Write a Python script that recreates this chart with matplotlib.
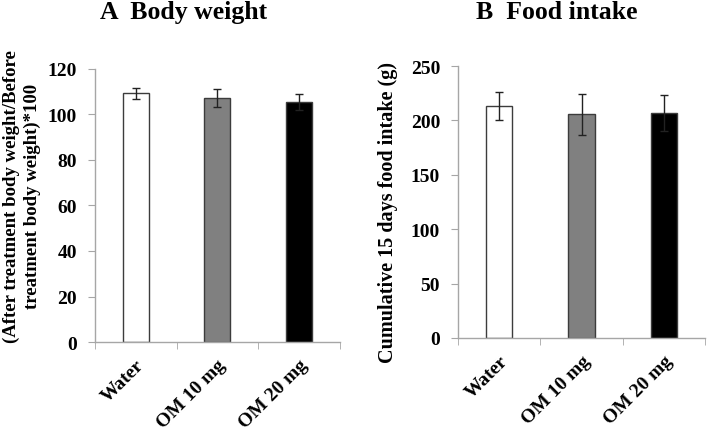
import matplotlib.pyplot as plt
from matplotlib.transforms import ScaledTranslation

plt.rcParams['font.family'] = 'Liberation Serif'
plt.rcParams['font.weight'] = 'bold'

groups = ['Water', 'OM 10 mg', 'OM 20 mg']
colors = ['white', '#808080', 'black']

bw_mean = [109.3, 107.3, 105.4]
bw_err = [2.4, 4.0, 3.6]

food_mean = [213.2, 205.6, 206.8]
food_err = [12.8, 18.7, 16.5]

fig = plt.figure(figsize=(7.08, 4.31), dpi=100)
ax1 = fig.add_axes([0.134, 0.204, 0.346, 0.634])
ax2 = fig.add_axes([0.647, 0.2135, 0.349, 0.631])

spine_col = '#a6a6a6'


def draw(ax, vals, errs, ymax, step):
    x = range(len(groups))
    ax.bar(x, vals, width=0.32, color=colors, edgecolor='#3c3c3c', linewidth=1.0,
           yerr=errs, error_kw=dict(ecolor='#222222', elinewidth=1.0, capsize=3, capthick=1.0))
    ax.set_xlim(-0.5, 2.5)
    ax.set_ylim(0, ymax)
    ax.set_yticks(range(0, ymax + 1, step))
    ax.set_xticks(list(x))
    ax.set_xticklabels(groups, rotation=45, ha='right', rotation_mode='anchor', fontsize=14)
    shift = ScaledTranslation(-6 / 72, 0, fig.dpi_scale_trans)
    for lab in ax.get_xticklabels():
        lab.set_transform(lab.get_transform() + shift)
    ax.set_xticks([-0.5, 0.5, 1.5, 2.5], minor=True)
    ax.tick_params(axis='x', which='major', length=0, pad=10)
    ax.tick_params(axis='x', which='minor', length=5, color=spine_col, direction='out')
    ax.tick_params(axis='y', length=5, color=spine_col, labelsize=14, pad=8)
    for s in ['top', 'right']:
        ax.spines[s].set_visible(False)
    for s in ['left', 'bottom']:
        ax.spines[s].set_color(spine_col)
        ax.spines[s].set_linewidth(1.0)


draw(ax1, bw_mean, bw_err, 120, 20)
draw(ax2, food_mean, food_err, 250, 50)

fig.text(0.259, 0.970, 'A  Body weight', ha='center', va='center', fontsize=18.5)
fig.text(0.787, 0.970, 'B  Food intake', ha='center', va='center', fontsize=18.5)

fig.text(0.031, 0.545, '(After treatment body weight/Before\ntreatment body weight)*100',
         rotation=90, ha='center', va='center', fontsize=13.5, linespacing=1.3)
fig.text(0.548, 0.508, 'Cumulative 15 days food intake (g)',
         rotation=90, ha='center', va='center', fontsize=14.5)

fig.savefig('out.png', dpi=100)
